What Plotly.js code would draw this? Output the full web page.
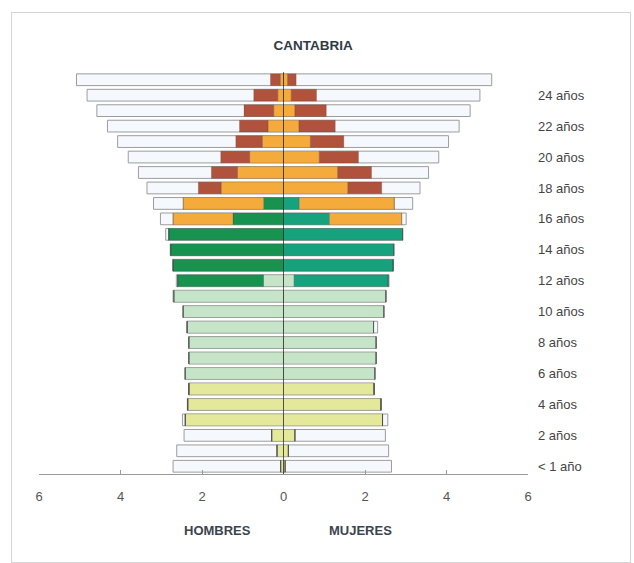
<!DOCTYPE html>
<html>
<head>
<meta charset="utf-8">
<script src="https://cdn.plot.ly/plotly-3.0.1.min.js"></script>
<style>
  html, body { margin: 0; padding: 0; background: #ffffff; }
  #wrap { position: relative; width: 634px; height: 563px; }
  #chart { position: absolute; left: 0; top: 0; width: 634px; height: 563px; }
  #frame { position: absolute; left: 11px; top: 12px; width: 618px; height: 549px; border: 1px solid #d4d4d4; pointer-events: none; }
</style>
</head>
<body>
<div id="wrap"><div id="chart"></div><div id="frame"></div></div>
<script>
// Ages, from < 1 year (index 0) to 25 years (index 25)
const ages = ['< 1 año','1 año','2 años','3 años','4 años','5 años','6 años','7 años','8 años','9 años',
  '10 años','11 años','12 años','13 años','14 años','15 años','16 años','17 años','18 años','19 años',
  '20 años','21 años','22 años','23 años','24 años','25 años'];
const ageTicks = ['< 1 año','2 años','4 años','6 años','8 años','10 años','12 años','14 años','16 años','18 años','20 años','22 años','24 años'];

// HOMBRES (% of population)
const menTotal     = [2.71,2.62,2.44,2.48,2.36,2.33,2.42,2.33,2.33,2.38,2.47,2.71,2.63,2.72,2.78,2.89,3.02,3.19,3.35,3.56,3.81,4.07,4.32,4.58,4.82,5.08];
const menInfantil  = [0.07,0.16,0.29,2.41,2.35,2.32,0,0,0,0,0,0,0,0,0,0,0,0,0,0,0,0,0,0,0,0];
const menPrimaria  = [0,0,0,0,0,0,2.41,2.32,2.32,2.36,2.46,2.69,0.49,0,0,0,0,0,0,0,0,0,0,0,0,0];
const menESO       = [0,0,0,0,0,0,0,0,0,0,0,0,2.11,2.71,2.77,2.82,1.24,0.49,0,0,0,0,0,0,0,0];
const menBach      = [0,0,0,0,0,0,0,0,0,0,0,0,0,0,0,0,1.47,1.97,1.53,1.13,0.83,0.52,0.38,0.24,0.14,0.08];
const menUniv      = [0,0,0,0,0,0,0,0,0,0,0,0,0,0,0,0,0,0,0.56,0.64,0.71,0.65,0.70,0.73,0.59,0.24];

// MUJERES (% of population)
const womenTotal    = [2.65,2.58,2.50,2.56,2.40,2.23,2.25,2.28,2.28,2.31,2.47,2.52,2.59,2.70,2.72,2.93,3.01,3.17,3.35,3.56,3.81,4.05,4.31,4.58,4.82,5.11];
const womenInfantil = [0.04,0.12,0.28,2.43,2.39,2.22,0,0,0,0,0,0,0,0,0,0,0,0,0,0,0,0,0,0,0,0];
const womenPrimaria = [0,0,0,0,0,0,2.24,2.27,2.27,2.21,2.46,2.51,0.26,0,0,0,0,0,0,0,0,0,0,0,0,0];
const womenESO      = [0,0,0,0,0,0,0,0,0,0,0,0,2.31,2.69,2.70,2.92,1.13,0.39,0,0,0,0,0,0,0,0];
const womenBach     = [0,0,0,0,0,0,0,0,0,0,0,0,0,0,0,0,1.77,2.33,1.58,1.33,0.88,0.66,0.38,0.28,0.19,0.10];
const womenUniv     = [0,0,0,0,0,0,0,0,0,0,0,0,0,0,0,0,0,0,0.83,0.83,0.96,0.82,0.89,0.77,0.62,0.21];

const xTickVals = [-6,-4,-2,0,2,4,6];
const xTickText = ['6','4','2','0','2','4','6'];

const colors = {
  total: '#f5f9fd', totalLine: '#9c9c9c',
  infantil: '#e3e89a', primaria: '#c6e5c8',
  esoMen: '#17924f', esoWomen: '#16a27c',
  bach: '#f5aa3c', univ: '#b1523d'
};

const traces = [];
function totalTrace(vals, sign) {
  return {
    type: 'bar', orientation: 'h', y: ages,
    x: vals.map(v => sign * v), base: vals.map(() => 0),
    marker: { color: colors.total, line: { color: colors.totalLine, width: 1 } },
    hoverinfo: 'skip', showlegend: false
  };
}
function stackTraces(series, sign) {
  const cum = new Array(ages.length).fill(0);
  series.forEach(s => {
    traces.push({
      type: 'bar', orientation: 'h', y: ages,
      x: s.vals.map(v => sign * v),
      base: cum.map(c => sign * c),
      marker: { color: s.color, line: { color: 'rgba(60,60,60,0.35)', width: 0.6 } },
      hoverinfo: 'skip', showlegend: false
    });
    s.vals.forEach((v, i) => { cum[i] += v; });
  });
}
traces.push(totalTrace(menTotal, -1));
traces.push(totalTrace(womenTotal, 1));
stackTraces([
  { vals: menInfantil, color: colors.infantil },
  { vals: menPrimaria, color: colors.primaria },
  { vals: menESO, color: colors.esoMen },
  { vals: menBach, color: colors.bach },
  { vals: menUniv, color: colors.univ }
], -1);
stackTraces([
  { vals: womenInfantil, color: colors.infantil },
  { vals: womenPrimaria, color: colors.primaria },
  { vals: womenESO, color: colors.esoWomen },
  { vals: womenBach, color: colors.bach },
  { vals: womenUniv, color: colors.univ }
], 1);

const layout = {
  width: 634, height: 563,
  margin: { l: 39, r: 106, t: 72, b: 89 },
  paper_bgcolor: 'rgba(0,0,0,0)', plot_bgcolor: 'rgba(0,0,0,0)',
  font: { family: 'Arial, "Liberation Sans", sans-serif', size: 12, color: '#444' },
  title: { text: '<b>CANTABRIA</b>', x: 0.494, xanchor: 'center', y: 0.92, yanchor: 'middle',
           font: { size: 13.5, color: '#2f3a45' } },
  barmode: 'overlay', bargap: 0.24,
  showlegend: false,
  xaxis: {
    range: [-6, 6], tickvals: xTickVals, ticktext: xTickText,
    showgrid: false, zeroline: false, showline: true, linecolor: '#9a9a9a', linewidth: 1,
    ticks: 'inside', ticklen: 4, tickcolor: '#9a9a9a',
    ticklabelstandoff: 10,
    tickfont: { size: 13, color: '#555' }, fixedrange: true
  },
  yaxis: {
    type: 'category', categoryorder: 'array', categoryarray: ages,
    range: [-0.5, 25.5], side: 'right',
    tickvals: ageTicks, ticktext: ageTicks,
    showgrid: false, zeroline: false, showline: false, ticks: '',
    ticklabelstandoff: 9,
    tickfont: { size: 13, color: '#444' }, fixedrange: true
  },
  shapes: [
    { type: 'line', xref: 'x', yref: 'paper', x0: 0, x1: 0, y0: 0, y1: 1.0,
      line: { color: 'rgba(50,50,50,0.75)', width: 1 }, layer: 'above' }
  ],
  annotations: [
    { text: '<b>HOMBRES</b>', xref: 'x', yref: 'paper', x: -1.62, y: -0.14, showarrow: false,
      xanchor: 'center', yanchor: 'middle', font: { size: 13, color: '#3a4550' } },
    { text: '<b>MUJERES</b>', xref: 'x', yref: 'paper', x: 1.88, y: -0.14, showarrow: false,
      xanchor: 'center', yanchor: 'middle', font: { size: 13, color: '#3a4550' } }
  ]
};

Plotly.newPlot('chart', traces, layout, { displayModeBar: false, staticPlot: true });
</script>
</body>
</html>
